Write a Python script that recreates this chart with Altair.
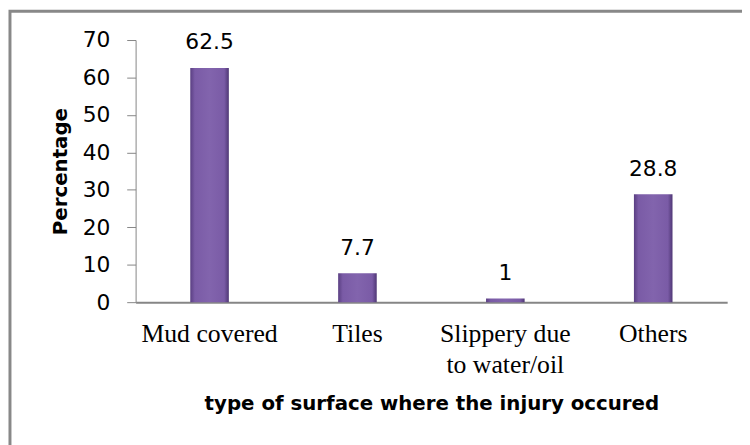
import altair as alt
import pandas as pd

categories = ["Mud covered", "Tiles", "Slippery due to water/oil", "Others"]
values = [62.5, 7.7, 1, 28.8]
labels = ["62.5", "7.7", "1", "28.8"]
y_ticks = [0, 10, 20, 30, 40, 50, 60, 70]

df = pd.DataFrame({"surface": categories, "pct": values, "label": labels})

x_enc = alt.X(
    "surface:N",
    sort=categories,
    scale=alt.Scale(paddingInner=0, paddingOuter=0),
    axis=alt.Axis(
        title="type of surface where the injury occured",
        titleFont="DejaVu Sans",
        titleFontSize=20,
        titleFontWeight="bold",
        titleColor="black",
        titlePadding=16,
        labelFont="Liberation Serif",
        labelFontSize=26,
        labelColor="black",
        labelAngle=0,
        labelPadding=19,
        labelLineHeight=31,
        labelExpr="datum.value == 'Slippery due to water/oil' ? ['Slippery due', 'to water/oil'] : datum.label",
        ticks=False,
        domainColor="#868686",
        domainWidth=2,
    ),
)

y_enc = alt.Y(
    "pct:Q",
    scale=alt.Scale(domain=[0, 70], nice=False),
    axis=alt.Axis(
        title="Percentage",
        titleFont="DejaVu Sans",
        titleFontSize=20,
        titleFontWeight="bold",
        titleColor="black",
        titlePadding=12,
        values=y_ticks,
        tickCount=8,
        labelOverlap=False,
        labelFont="DejaVu Sans",
        labelFontSize=22,
        labelColor="black",
        labelPadding=17,
        tickSize=9,
        tickColor="#868686",
        domainColor="#868686",
        grid=False,
    ),
)

grad = alt.Gradient(
    gradient="linear",
    x1=0, y1=0, x2=1, y2=0,
    stops=[
        alt.GradientStop(color="#5a3f82", offset=0),
        alt.GradientStop(color="#7a5ba6", offset=0.12),
        alt.GradientStop(color="#8264ad", offset=0.5),
        alt.GradientStop(color="#7a5ba6", offset=0.88),
        alt.GradientStop(color="#4f3775", offset=1),
    ],
)

base = alt.Chart(df)

bars = base.mark_bar(size=39, color=grad).encode(x=x_enc, y=y_enc)

text = base.mark_text(
    font="DejaVu Sans", fontSize=22, color="black", baseline="alphabetic", dy=-19
).encode(x=x_enc, y=y_enc, text="label:N")

frame = alt.Chart(pd.DataFrame({"a": [0]})).mark_rect(
    fill="white", fillOpacity=0, stroke="#888888", strokeWidth=3
).encode(
    x=alt.value(-127), x2=alt.value(700), y=alt.value(-29), y2=alt.value(500)
)

chart = alt.layer(frame, bars, text).properties(
    width=598,
    height=265,
    padding={"left": 129, "top": 30, "right": 15, "bottom": 142},
    autosize=alt.AutoSizeParams(type="none"),
    background="white",
).configure_view(stroke=None)

chart.save("out.html", embed_options={"renderer": "svg", "actions": False})
